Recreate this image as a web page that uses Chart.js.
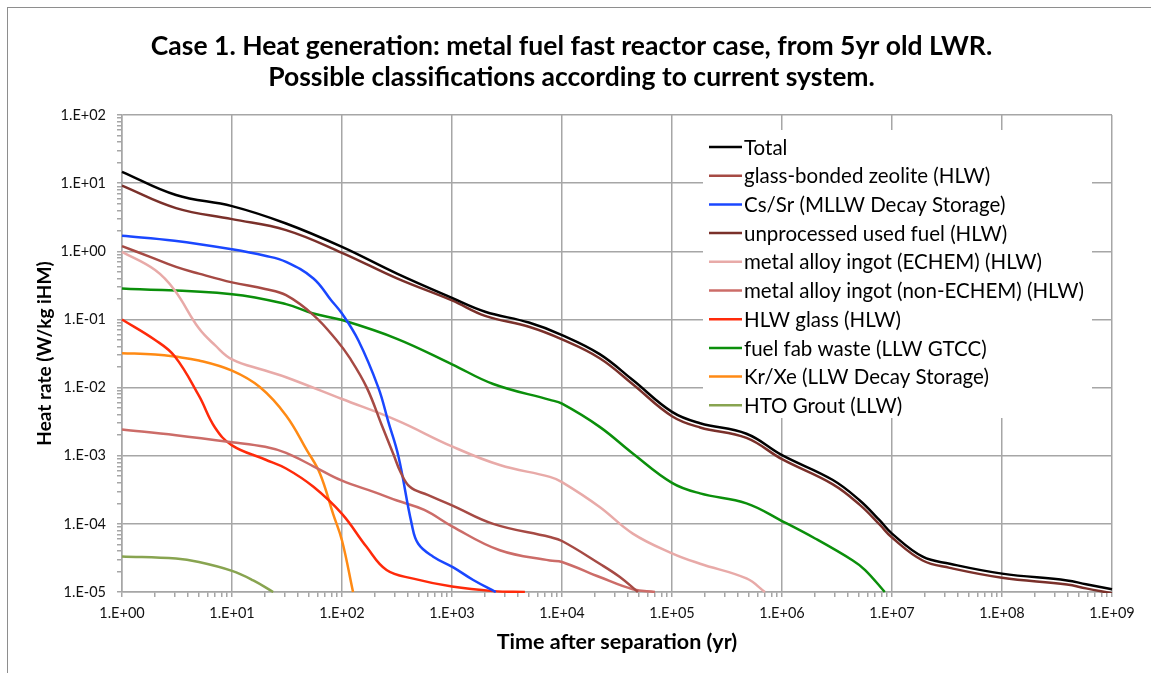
<!DOCTYPE html>
<html lang="en">
<head>
  <meta charset="UTF-8" />
  <title>Case 1. Heat generation - metal fuel fast reactor</title>
  <script src="https://cdn.jsdelivr.net/npm/chart.js"></script>
  <style>
    body {
      margin: 0;
      background: #fff;
      overflow: hidden;
    }

    .frame {
      position: absolute;
      left: 7px;
      top: 7px;
      width: 1200px;
      height: 720px;
      border: 1.5px solid #8e8e8e;
    }

    .chart-container {
      position: absolute;
      left: 0;
      top: 0;
      width: 1151px;
      height: 673px;
    }
  </style>
</head>
<body>
  <div class="frame"></div>
  <div class="chart-container">
    <canvas id="heatChart"></canvas>
  </div>

  <script>
    // time after separation (yr) and heat rate (W/kg iHM)
    const totalTime = [1, 3.1, 10, 31, 100, 316, 1000, 2000, 5000, 1e4, 2.2e4, 4.4e4, 1e5, 1.8e5, 4.75e5, 1e6, 2.9e6, 5.1e6, 7.7e6, 1e7, 1.9e7, 3.35e7, 1e8, 3.9e8, 5.8e8, 1e9];
    const totalHeat = [14.7, 6.7, 4.6, 2.56, 1.16, 0.47, 0.207, 0.13, 0.09, 0.059, 0.031, 0.0129, 0.0044, 0.0030, 0.0021, 0.00102, 4.4e-4, 2.2e-4, 1.13e-4, 7.2e-5, 3.3e-5, 2.6e-5, 1.86e-5, 1.48e-5, 1.3e-5, 1.1e-5];

    const zeoliteTime = [1, 1.8, 3.1, 5, 10, 20, 31, 55, 89, 118, 168, 230, 297, 340, 414, 600, 1000, 2370, 7760, 1e4, 2.2e4, 3.36e4, 4.9e4];
    const zeoliteHeat = [1.19, 0.83, 0.59, 0.47, 0.35, 0.28, 0.227, 0.116, 0.05, 0.027, 0.01, 2.8e-3, 1e-3, 5.8e-4, 3.5e-4, 2.66e-4, 1.87e-4, 1.0e-4, 6.4e-5, 5.6e-5, 2.6e-5, 1.66e-5, 1e-5];

    const csSrTime = [1, 3, 10, 20, 31, 55, 80, 100, 141, 214, 263, 325, 430, 493, 675, 1026, 1560, 2500];
    const csSrHeat = [1.69, 1.43, 1.07, 0.86, 0.70, 0.40, 0.19, 0.122, 0.049, 0.01, 3.2e-3, 1e-3, 1e-4, 5.1e-5, 3.3e-5, 2.3e-5, 1.5e-5, 1e-5];

    const usedFuelTime = [1, 3.1, 10, 31, 100, 316, 1000, 2000, 5000, 1e4, 2.2e4, 4.4e4, 1e5, 1.8e5, 4.75e5, 1e6, 2.9e6, 5.1e6, 7.7e6, 1e7, 1.9e7, 3.35e7, 1e8, 3.9e8, 5.8e8, 1e9];
    const usedFuelHeat = [9.2, 4.3, 2.97, 2.05, 0.95, 0.40, 0.19, 0.113, 0.078, 0.051, 0.027, 0.0112, 0.0038, 0.0026, 0.00183, 8.9e-4, 3.8e-4, 1.9e-4, 9.8e-5, 6.3e-5, 2.9e-5, 2.26e-5, 1.62e-5, 1.29e-5, 1.13e-5, 9.6e-6];

    const echemTime = [1, 2, 3, 5, 7, 10, 20, 31, 100, 316, 1000, 2720, 7760, 1e4, 2.2e4, 4.4e4, 1e5, 1.8e5, 4.75e5, 7e5];
    const echemHeat = [0.98, 0.53, 0.27, 0.074, 0.042, 0.026, 0.0178, 0.0142, 6.8e-3, 3.3e-3, 1.37e-3, 7.3e-4, 4.9e-4, 4.1e-4, 1.77e-4, 7.2e-5, 3.7e-5, 2.6e-5, 1.58e-5, 1e-5];

    const nonEchemTime = [1, 3.1, 10, 20, 31, 55, 100, 200, 316, 560, 1000, 2720, 7760, 1e4, 2.2e4, 4.4e4, 7e4];
    const nonEchemHeat = [2.43e-3, 2.0e-3, 1.58e-3, 1.35e-3, 1.1e-3, 7e-4, 4.3e-4, 2.9e-4, 2.2e-4, 1.6e-4, 9.2e-5, 4.1e-5, 2.9e-5, 2.76e-5, 1.66e-5, 1.1e-5, 1e-5];

    const hlwGlassTime = [1, 2, 3, 5, 7, 10, 20, 31, 55, 100, 167, 254, 445, 1000, 2370, 4600];
    const hlwGlassHeat = [0.1, 0.05, 0.029, 7.6e-3, 2.6e-3, 1.42e-3, 8.8e-4, 6.5e-4, 3.5e-4, 1.4e-4, 4.6e-5, 2.1e-5, 1.57e-5, 1.2e-5, 1.03e-5, 1e-5];

    const fuelFabTime = [1, 10, 31, 55, 100, 316, 1000, 2370, 7760, 1e4, 2.2e4, 4.4e4, 1e5, 1.8e5, 4.75e5, 1e6, 2e6, 4.4e6, 5.7e6, 8.6e6];
    const fuelFabHeat = [0.285, 0.235, 0.168, 0.122, 0.098, 0.052, 0.022, 0.0113, 6.6e-3, 5.8e-3, 2.65e-3, 1.08e-3, 4e-4, 2.8e-4, 2e-4, 1.1e-4, 6.1e-5, 2.9e-5, 2.1e-5, 1e-5];

    const krXeTime = [1, 2, 3, 5, 10, 18, 31, 48, 63, 83, 100, 126];
    const krXeHeat = [0.032, 0.0305, 0.0285, 0.025, 0.0177, 0.0101, 3.9e-3, 1.2e-3, 5.5e-4, 1.4e-4, 5.7e-5, 1e-5];

    const htoTime = [1, 3.1, 5, 10, 15.6, 23.7];
    const htoHeat = [3.33e-5, 3.1e-5, 2.75e-5, 2.04e-5, 1.48e-5, 1e-5];

    const seriesLabels = [
      'Total',
      'glass-bonded zeolite (HLW)',
      'Cs/Sr (MLLW Decay Storage)',
      'unprocessed used fuel (HLW)',
      'metal alloy ingot (ECHEM) (HLW)',
      'metal alloy ingot (non-ECHEM) (HLW)',
      'HLW glass (HLW)',
      'fuel fab waste (LLW GTCC)',
      'Kr/Xe (LLW Decay Storage)',
      'HTO Grout (LLW)'
    ];
    const seriesColors = ['#000000', '#a64a44', '#1a47ff', '#7a302a', '#e8aaa8', '#cc6c68', '#ff2a0a', '#0b8f0b', '#ff8a14', '#88a450'];
    const seriesTimes = [totalTime, zeoliteTime, csSrTime, usedFuelTime, echemTime, nonEchemTime, hlwGlassTime, fuelFabTime, krXeTime, htoTime];
    const seriesHeats = [totalHeat, zeoliteHeat, csSrHeat, usedFuelHeat, echemHeat, nonEchemHeat, hlwGlassHeat, fuelFabHeat, krXeHeat, htoHeat];

    const xDecades = [0, 9];
    const yDecades = [-5, 2];

    const gridColor = '#a6a6a6';

    Chart.defaults.font.family = 'Lato';
    Chart.defaults.color = '#111';

    function isMajor(v) {
      const l = Math.log10(v);
      return Math.abs(l - Math.round(l)) < 1e-6;
    }

    function sciLabel(v) {
      const e = Math.round(Math.log10(v));
      return '1.E' + (e < 0 ? '-' : '+') + String(Math.abs(e)).padStart(2, '0');
    }

    function logTicks(range) {
      const ticks = [];
      for (let e = range[0]; e < range[1]; e++) {
        for (let m = 1; m < 10; m++) ticks.push({ value: m * Math.pow(10, e) });
      }
      ticks.push({ value: Math.pow(10, range[1]) });
      return ticks;
    }

    const datasets = seriesLabels.map((label, i) => ({
      label: label,
      data: seriesTimes[i].map((t, j) => ({ x: t, y: seriesHeats[i][j] })),
      borderColor: seriesColors[i],
      backgroundColor: seriesColors[i],
      borderWidth: 2.5,
      pointRadius: 0,
      fill: false,
      tension: 0.4,
      clip: 1
    }));

    // legend drawn inside the plot, on a white box like the original
    const insideLegend = {
      id: 'insideLegend',
      afterDraw(chart) {
        const ctx = chart.ctx;
        const box = { left: 703, top: 130, width: 389, height: 288 };
        const rowH = 28.7;
        ctx.save();
        ctx.fillStyle = '#fff';
        ctx.fillRect(box.left, box.top, box.width, box.height);
        ctx.font = '20.5px Lato';
        ctx.textBaseline = 'middle';
        chart.data.datasets.forEach((ds, i) => {
          const y = box.top + 17 + i * rowH;
          ctx.strokeStyle = ds.borderColor;
          ctx.lineWidth = 2.5;
          ctx.beginPath();
          ctx.moveTo(box.left + 6, y);
          ctx.lineTo(box.left + 39, y);
          ctx.stroke();
          ctx.fillStyle = '#000';
          ctx.fillText(ds.label, box.left + 41, y + 1);
        });
        ctx.restore();
      }
    };

    const axisCommon = {
      type: 'logarithmic',
      border: { color: gridColor, width: 1.5 },
      grid: {
        color: (c) => (c.tick && isMajor(c.tick.value) ? gridColor : 'rgba(0,0,0,0)'),
        tickColor: gridColor,
        lineWidth: 1.5,
        tickLength: 5
      },
      ticks: {
        autoSkip: false,
        maxRotation: 0,
        font: { size: 14.5 },
        color: '#111',
        callback: (v) => (isMajor(v) ? sciLabel(v) : '')
      }
    };

    new Chart(document.getElementById('heatChart'), {
      type: 'line',
      data: { datasets: datasets },
      plugins: [insideLegend],
      options: {
        responsive: true,
        maintainAspectRatio: false,
        animation: false,
        layout: { padding: { top: 20, left: 31, right: 39, bottom: 18 } },
        plugins: {
          legend: { display: false },
          tooltip: { enabled: false },
          title: {
            display: true,
            text: [
              'Case 1. Heat generation: metal fuel fast reactor case, from 5yr old LWR.',
              'Possible classifications according to current system.'
            ],
            color: '#000',
            font: { size: 26.5, weight: 'bold', lineHeight: 1.18 },
            padding: { top: 10.4, bottom: 22.1 }
          }
        },
        scales: {
          x: {
            ...axisCommon,
            min: Math.pow(10, xDecades[0]),
            max: Math.pow(10, xDecades[1]),
            afterBuildTicks: (s) => { s.ticks = logTicks(xDecades); },
            afterFit: (s) => { s.height = 63; },
            ticks: { ...axisCommon.ticks, padding: 8 },
            title: {
              display: true,
              text: 'Time after separation (yr)',
              color: '#000',
              font: { size: 21.5, weight: 'bold', lineHeight: 1.2 },
              padding: { top: 0, bottom: 0 }
            }
          },
          y: {
            ...axisCommon,
            min: Math.pow(10, yDecades[0]),
            max: Math.pow(10, yDecades[1]),
            afterBuildTicks: (s) => { s.ticks = logTicks(yDecades); },
            afterFit: (s) => { s.width = 91; },
            ticks: { ...axisCommon.ticks, padding: 11 },
            title: {
              display: true,
              text: 'Heat rate (W/kg iHM)',
              color: '#000',
              font: { size: 19, weight: 'bold', lineHeight: 1.2 },
              padding: { top: 2.5, bottom: 0 }
            }
          }
        }
      }
    });
  </script>
</body>
</html>
